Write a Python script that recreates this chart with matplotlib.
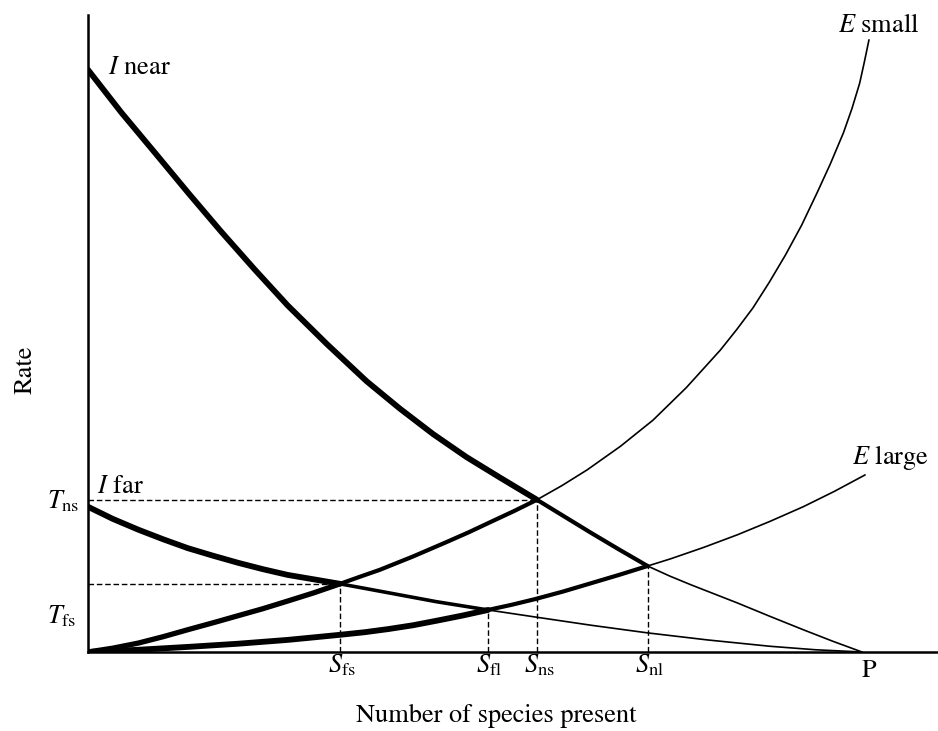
import matplotlib
matplotlib.use("Agg")
from matplotlib import pyplot as plt
import numpy as np

plt.rcParams['font.family'] = 'STIXGeneral'
plt.rcParams['mathtext.fontset'] = 'stix'

# curves: number of species present vs rate
species_i_near = [0, 4.3, 8.7, 13.0, 17.2, 21.5, 25.8, 30.9, 36.0, 40.3, 44.6, 48.9, 53.2, 58.0,
                  61.5, 65.0, 68.6, 72.3, 75.2, 78.0, 83.9, 88.1, 92.4, 96.2, 100]
rate_i_near = [91.4, 84.7, 78.3, 72.0, 66.0, 60.1, 54.4, 48.3, 42.5, 38.2, 34.2, 30.6, 27.4, 23.9,
               21.3, 18.7, 16.1, 13.5, 11.9, 10.5, 7.7, 5.6, 3.5, 1.7, 0]

species_i_far = [0, 3.2, 6.5, 9.7, 12.9, 16.2, 19.4, 22.6, 25.8, 29.2, 32.56, 35.7, 38.8, 45.0,
                 51.68, 57.75, 65.0, 72.3, 80.0, 88.1, 94.0, 100]
rate_i_far = [22.8, 20.9, 19.2, 17.7, 16.3, 15.1, 14.0, 13.0, 12.1, 11.4, 10.7, 10.0, 9.3, 7.9,
              6.6, 5.5, 4.2, 3.0, 1.9, 0.9, 0.35, 0]

species_e_small = [0, 3.2, 6.5, 9.7, 12.9, 16.2, 19.4, 22.6, 25.8, 29.2, 32.56, 35.1, 37.7, 42.0,
                   46.4, 49.2, 52.0, 55.0, 58.0, 61.2, 64.5, 68.8, 73.0, 77.3, 81.7, 83.8, 85.9,
                   88.0, 90.1, 92.2, 94.2, 95.9, 97.6, 98.7, 99.7, 100.3, 100.9]
rate_e_small = [0, 0.6, 1.4, 2.4, 3.5, 4.6, 5.7, 6.8, 8.0, 9.3, 10.7, 11.8, 12.9, 15.0,
                17.3, 18.8, 20.4, 22.1, 23.9, 26.1, 28.6, 32.3, 36.4, 41.5, 47.4, 50.6, 54.0,
                58.0, 62.3, 67.0, 72.1, 76.6, 81.5, 85.3, 89.3, 92.6, 96.1]

species_e_large = [0, 6.5, 12.9, 19.4, 25.8, 29.2, 32.56, 35.7, 38.8, 42.0, 45.0, 48.3, 51.68,
                   54.7, 57.75, 61.4, 65.0, 68.6, 72.3, 75.2, 79.5, 83.9, 88.1, 92.4, 96.4, 100.4]
rate_e_large = [0, 0.35, 0.8, 1.3, 1.9, 2.3, 2.7, 3.1, 3.6, 4.2, 4.9, 5.7, 6.6,
                7.4, 8.3, 9.5, 10.8, 12.1, 13.5, 14.6, 16.4, 18.4, 20.5, 22.8, 25.2, 27.8]

# equilibrium points (intersections)
eq_names = ['fs', 'fl', 'ns', 'nl']
eq_species = [32.56, 51.68, 58.0, 72.3]
eq_rate = [10.7, 6.6, 23.9, 13.5]

P = 100
t_ns = 22.6
t_fs = 4.55

fig = plt.figure(figsize=(9.38, 7.31), dpi=100)
ax = fig.add_axes([88/938, 79/731, 850/938, 637/731])
ax.set_xlim(0, 850/7.74)
ax.set_ylim(0, 100)
ax.set_xticks([])
ax.set_yticks([])
for s in ['top', 'right']:
    ax.spines[s].set_visible(False)
for s in ['left', 'bottom']:
    ax.spines[s].set_linewidth(1.8)


def draw_curve(xs, ys, pieces):
    xs = np.array(xs)
    ys = np.array(ys)
    for lo, hi, lw in pieces:
        m = (xs >= lo - 1e-9) & (xs <= hi + 1e-9)
        ax.plot(xs[m], ys[m], color='black', lw=lw, solid_joinstyle='round',
                solid_capstyle='round', zorder=3)


sfs, sfl, sns, snl = eq_species
draw_curve(species_i_near, rate_i_near, [(0, sns, 4.2), (sns, snl, 3.0), (snl, 200, 1.2)])
draw_curve(species_i_far, rate_i_far, [(0, sfs, 4.2), (sfs, sfl, 2.6), (sfl, 200, 1.2)])
draw_curve(species_e_small, rate_e_small, [(0, sfs, 3.8), (sfs, sns, 3.0), (sns, 200, 1.2)])
draw_curve(species_e_large, rate_e_large, [(0, sfl, 4.2), (sfl, snl, 3.0), (snl, 200, 1.2)])

# dashed guides
dash = dict(color='black', lw=1.0, linestyle=(0, (4, 2)), zorder=2)
for name, x, y in zip(eq_names, eq_species, eq_rate):
    ax.plot([x, x], [0, y], **dash)
    if name in ('fs', 'ns'):
        ax.plot([0, x], [y, y], **dash)

fs = 19
for name, x in zip(eq_names, eq_species):
    ax.annotate(r'$S_{\mathrm{%s}}$' % name, xy=(x, 0), xytext=(-9, -15),
                textcoords='offset points', ha='left', va='baseline', fontsize=fs)
ax.annotate('P', xy=(P, 0), xytext=(5, -18), textcoords='offset points',
            ha='center', va='baseline', fontsize=fs)

ax.text(-5.3, t_ns, r'$T_{\mathrm{ns}}$', ha='left', va='baseline', fontsize=fs)
ax.text(-5.3, t_fs, r'$T_{\mathrm{fs}}$', ha='left', va='baseline', fontsize=fs)

ax.text(2.6, 90.7, r'$I$ near', ha='left', va='baseline', fontsize=fs)
ax.text(1.2, 25.0, r'$I$ far', ha='left', va='baseline', fontsize=fs)
ax.text(96.9, 97.3, r'$E$ small', ha='left', va='baseline', fontsize=fs)
ax.text(98.7, 29.5, r'$E$ large', ha='left', va='baseline', fontsize=fs)

ax.text(52.8, -11.0, 'Number of species present', ha='center', va='baseline', fontsize=fs)
ax.text(-8.1, 44.3, 'Rate', ha='center', va='center', rotation=90, fontsize=fs)

fig.savefig('out.png', dpi=100)
